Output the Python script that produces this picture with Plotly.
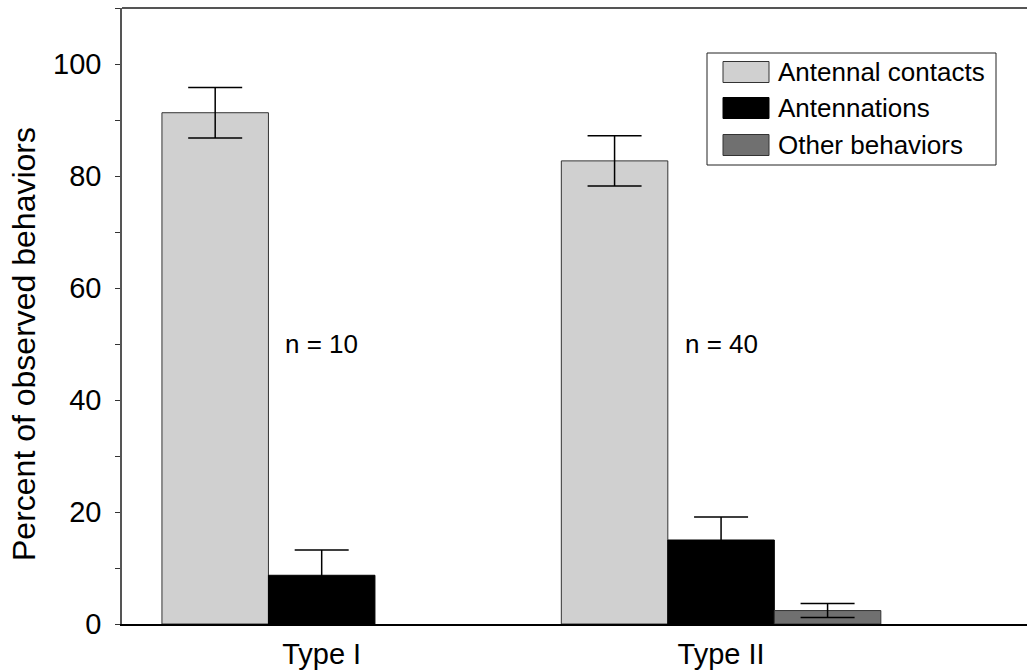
import plotly.graph_objects as go

# Behaviour percentages by contact type (mean and error)
categories = ["Type I", "Type II"]
series_names = ["Antennal contacts", "Antennations", "Other behaviors"]
contacts_mean = [91.3, 82.7]
contacts_err = [4.5, 4.5]
antennations_mean = [8.7, 15.0]
antennations_err = [4.5, 4.1]
other_mean = [None, 2.4]
other_err = [None, 1.25]
sample_sizes = ["n = 10", "n = 40"]
y_ticks = [0, 20, 40, 60, 80, 100]

colors = ["#d0d0d0", "#000000", "#707070"]
outlines = ["#333333", "#000000", "#333333"]
means = [contacts_mean, antennations_mean, other_mean]
errs = [contacts_err, antennations_err, other_err]

FONT = "Liberation Sans, Arial, sans-serif"

fig = go.Figure()
for name, m, e, c, oc in zip(series_names, means, errs, colors, outlines):
    fig.add_trace(go.Bar(
        name=name, x=categories, y=m,
        marker=dict(color=c, line=dict(color=oc, width=1)),
        error_y=dict(type="data", array=e, visible=True,
                     color="#000000", thickness=1.5, width=27),
        showlegend=False,
    ))

# Plot-area geometry in pixels (used for the drawn legend)
W, H = 1027, 671
L, R, T, B = 122, 0, 8, 47
pw, ph = W - L - R, H - T - B

def fx(px):
    return (px - L) / pw

def fy(py):
    return (H - B - py) / ph

shapes = [
    # top frame line
    dict(type="line", xref="paper", yref="paper", x0=0, x1=1, y0=1, y1=1,
         line=dict(color="#555555", width=2)),
    # legend box
    dict(type="rect", xref="paper", yref="paper",
         x0=fx(707), x1=fx(996), y0=fy(165), y1=fy(53),
         line=dict(color="#222222", width=1), fillcolor="white"),
]
annotations = []
row_centers = [72, 108, 145]
for name, c, oc, yc in zip(series_names, colors, outlines, row_centers):
    shapes.append(dict(type="rect", xref="paper", yref="paper",
                       x0=fx(723), x1=fx(769), y0=fy(yc + 10.5), y1=fy(yc - 10.5),
                       line=dict(color=oc, width=1), fillcolor=c))
    annotations.append(dict(text=name, xref="paper", yref="paper",
                            x=fx(776), y=fy(yc), xanchor="left", yanchor="middle",
                            showarrow=False, font=dict(family=FONT, size=26, color="black")))

for cat, txt in zip(categories, sample_sizes):
    annotations.append(dict(text=txt, x=cat, y=50, xref="x", yref="y",
                            showarrow=False, xanchor="center", yanchor="middle",
                            font=dict(family=FONT, size=26, color="black")))

annotations.append(dict(text="Percent of observed behaviors", xref="paper", yref="paper",
                        x=fx(24), y=fy(344), textangle=-90, showarrow=False,
                        xanchor="center", yanchor="middle",
                        font=dict(family=FONT, size=32, color="black")))

fig.update_layout(
    width=W, height=H,
    margin=dict(l=L, r=R, t=T, b=B),
    paper_bgcolor="white", plot_bgcolor="white",
    barmode="group", bargap=0.2, bargroupgap=0,
    font=dict(family=FONT, size=29, color="black"),
    shapes=shapes, annotations=annotations,
)
fig.update_xaxes(
    range=[-0.5, 1.766], showgrid=False, zeroline=False,
    showline=True, linecolor="black", linewidth=2,
    ticks="", ticklabelstandoff=3,
    tickfont=dict(family=FONT, size=29, color="black"),
)
fig.update_yaxes(
    range=[0, 110], showgrid=False, zeroline=False,
    showline=True, linecolor="#555555", linewidth=1.5,
    tickvals=y_ticks, ticks="outside", ticklen=5, tickcolor="#333333",
    minor=dict(dtick=10, ticks="outside", ticklen=5, tickcolor="#333333", showgrid=False),
    ticklabelstandoff=8,
    tickfont=dict(family=FONT, size=29, color="black"),
)

fig.write_html("out.html")
